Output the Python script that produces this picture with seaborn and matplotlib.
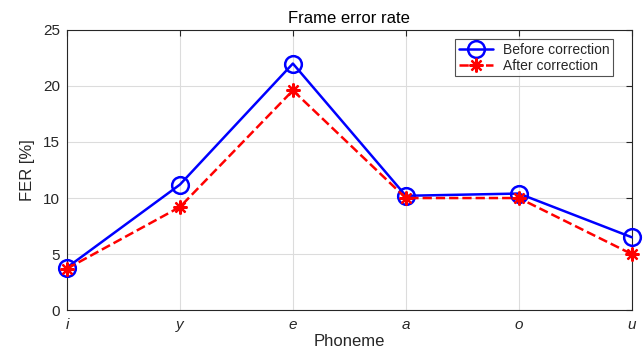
import matplotlib
matplotlib.use("Agg")
import matplotlib.pyplot as plt
import seaborn as sns
import pandas as pd

phonemes = ["i", "y", "e", "a", "o", "u"]
before = [3.8, 11.2, 22.0, 10.2, 10.4, 6.5]
after = [3.7, 9.2, 19.6, 10.0, 10.0, 5.0]
yticks = [0, 5, 10, 15, 20, 25]

sns.set_style("white")
plt.rcParams['font.family'] = ['Liberation Sans', 'DejaVu Sans']

df = pd.DataFrame({
    "x": list(range(len(phonemes))) * 2,
    "FER": before + after,
    "series": ["Before correction"] * len(phonemes) + ["After correction"] * len(phonemes),
})

fig = plt.figure(figsize=(6.44, 3.52), dpi=100)
ax = fig.add_axes([0.104, 0.119, 0.877, 0.796])

sns.lineplot(data=df[df.series == "Before correction"], x="x", y="FER", ax=ax,
             color="#0000ff", lw=1.8, marker="o", markersize=12,
             markerfacecolor="none", markeredgecolor="#0000ff", markeredgewidth=1.8,
             label="Before correction", clip_on=False, zorder=3)
sns.lineplot(data=df[df.series == "After correction"], x="x", y="FER", ax=ax,
             color="#ff0000", lw=1.8, marker=(8, 2, 0), markersize=10,
             markerfacecolor="#ff0000", markeredgecolor="#ff0000", markeredgewidth=1.6,
             linestyle="--", dashes=(3, 2.5), label="After correction",
             clip_on=False, zorder=4)

ax.set_xlim(0, len(phonemes) - 1)
ax.set_ylim(0, 25)
ax.set_xticks(range(len(phonemes)))
ax.set_xticklabels(phonemes, fontstyle="italic", fontsize=11)
ax.set_yticks(yticks)
ax.set_yticklabels([str(v) for v in yticks], fontsize=11)
ax.tick_params(direction="in", top=True, right=True, length=4, width=0.8,
               colors="#262626", pad=5)
ax.tick_params(axis="x", pad=6)
ax.grid(True, color="#dcdcdc", lw=0.8)
ax.set_axisbelow(True)
for s in ax.spines.values():
    s.set_color("#262626")
    s.set_linewidth(0.8)

ax.set_xlabel("Phoneme", fontsize=12, labelpad=1, color="#262626")
ax.set_ylabel("FER [%]", fontsize=12, labelpad=6, color="#262626")
ax.set_title("Frame error rate", fontsize=12, pad=5, color="#000000")

leg = ax.legend(loc="upper right", fontsize=10, frameon=True, fancybox=False,
                edgecolor="#262626", handlelength=2.5, borderpad=0.25,
                labelspacing=0.12, bbox_to_anchor=(0.967, 0.966),
                handletextpad=0.7, borderaxespad=0)
leg.get_frame().set_linewidth(0.8)

fig.savefig("out.png", dpi=100)
